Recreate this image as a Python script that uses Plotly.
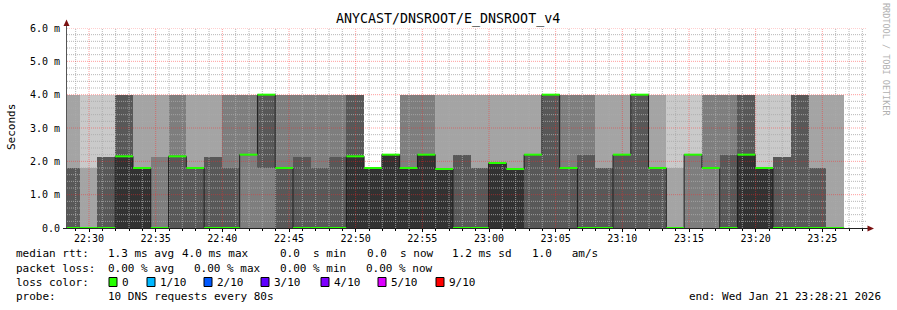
import plotly.graph_objects as go
from datetime import datetime, timedelta

# ---------------- data ----------------
title_text = "ANYCAST/DNSROOT/E_DNSROOT_v4"
view_start = datetime(2026, 1, 21, 22, 28, 21)
view_end = datetime(2026, 1, 21, 23, 28, 21)
first_column_start = datetime(2026, 1, 21, 22, 27, 58)
step_seconds = 80

# sorted ping RTTs (ms) per 80 s step, rank 1 = fastest ... rank 10 = slowest
ping_rank_1 = [0, 0, 0, 0, 0, 0, 0, 0, 0, 0, 0, 0, 0, 0, 0, 0, 0, 0, 0, 0, 0, 0,
               0, 0, 0, 0, 0, 0, 0, 0, 0, 0, 0, 0, 0, 0, 0, 0, 0, 0, 0, 0, 0, 0]
ping_rank_2 = [0, 0, 0, 0, 0, 0, 0, 0, 0, 0, 0, 0, 0, 0, 0, 0, 0, 0, 0, 0, 0, 0,
               0, 0, 0, 0, 0, 0, 0, 0, 0, 0, 0, 0, 0, 0, 0, 0, 0, 0, 0, 0, 0, 0]
ping_rank_3 = [0, 0, 0, 0, 0, 0, 0, 0, 0, 0, 0, 0, 0, 0, 0, 0, 0, 0, 0, 0, 0, 0,
               0, 0, 0, 0, 0, 0, 0, 0, 0, 0, 0, 0, 0, 0, 0, 0, 0, 0, 0, 0, 0, 0]
ping_rank_4 = [0, 0, 0, 0, 0, 0, 0, 0, 0, 0, 2.2, 1.8, 0, 0, 0, 0, 0, 0, 0, 0,
               0, 0, 0, 0, 0, 0, 0, 0, 0, 0, 0, 0, 0, 0, 0, 2.2, 1.8, 0, 0, 0,
               0, 0, 0, 0]
ping_rank_5 = [0, 0, 0, 0, 0, 0, 2.15, 1.8, 0, 0, 2.2, 4, 1.8, 0, 0, 0, 0, 0, 0, 0,
               0, 0, 0, 0, 0, 0, 2.2, 4, 1.8, 0, 0, 2.2, 4, 1.8, 0, 2.2, 1.8, 0, 0, 0,
               0, 0, 0, 0]
ping_rank_6 = [0, 0, 0, 2.15, 1.8, 0, 2.15, 1.8, 0, 0, 2.2, 4, 1.8, 0, 0, 0, 2.15, 1.8, 2.2, 1.8,
               2.2, 1.77, 0, 0, 1.95, 1.77, 2.2, 4, 1.8, 0, 0, 2.2, 4, 1.8, 0, 2.2, 1.8, 0, 2.2, 1.8,
               0, 0, 0, 0]
ping_rank_7 = [1.8, 0, 2.13, 4, 1.8, 0, 2.15, 1.8, 2.13, 1.8, 2.2, 4, 1.8, 2.13, 1.8, 2.13, 4, 1.8, 2.2, 1.8,
               2.2, 1.77, 2.2, 1.8, 1.95, 1.77, 2.2, 4, 1.8, 2.2, 1.8, 2.2, 4, 1.8, 0, 2.2, 1.8, 2.2, 4, 1.8,
               2.13, 4, 1.8, 0]
ping_rank_8 = [1.8, 0, 2.13, 4, 1.8, 2.13, 4, 1.8, 2.13, 4, 4, 4, 4, 4, 4, 4, 4, 1.8, 2.2, 4,
               4, 1.77, 2.2, 1.8, 1.95, 1.77, 2.2, 4, 4, 4, 1.8, 2.2, 4, 1.8, 0, 2.2, 4, 4, 4, 1.8,
               2.13, 4, 1.8, 0]
ping_rank_9 = [4, 1.8, 2.13, 4, 4, 4, 4, 4, 4, 4, 4, 4, 4, 4, 4, 4, 4, 1.8, 2.2, 4,
               4, 4, 4, 4, 4, 4, 4, 4, 4, 4, 4, 4, 4, 4, 1.8, 2.2, 4, 4, 4, 1.8,
               2.13, 4, 4, 4]
ping_rank_10 = [4, 4, 4, 4, 4, 4, 4, 4, 4, 4, 4, 4, 4, 4, 4, 4, 4, 1.8, 2.2, 4,
                4, 4, 4, 4, 4, 4, 4, 4, 4, 4, 4, 4, 4, 4, 4, 4, 4, 4, 4, 4,
                4, 4, 4, 4]
median_rtt = ping_rank_6

y_tick_values = [0, 1, 2, 3, 4, 5, 6]
y_tick_labels = ["0.0", "1.0 m", "2.0 m", "3.0 m", "4.0 m", "5.0 m", "6.0 m"]
x_tick_labels = ["22:30", "22:35", "22:40", "22:45", "22:50", "22:55",
                 "23:00", "23:05", "23:10", "23:15", "23:20", "23:25"]

loss_labels = ["0", "1/10", "2/10", "3/10", "4/10", "5/10", "9/10"]
loss_colors = ["#26ff00", "#00b8ff", "#0059ff", "#5e00ff", "#7e00ff", "#dd00ff", "#ff0000"]

legend_line1 = [("median rtt:", 16), ("1.3 ms avg", 108), ("4.0 ms max", 182),
                ("0.0  s min", 280), ("0.0  s now", 367), ("1.2 ms sd", 452), ("1.0   am/s", 532)]
legend_line2 = [("packet loss:", 16), ("0.00 % avg", 108), ("0.00 % max", 194),
                ("0.00 % min", 280), ("0.00 % now", 366)]
probe_text = "10 DNS requests every 80s"
end_text = "end: Wed Jan 21 23:28:21 2026"

# ---------------- layout geometry ----------------
W, H = 897, 310
PL, PR, PT, PB = 67, 867, 28, 228
FONT = "DejaVu Sans Mono"


def px(x):
    return (x - PL) / (PR - PL)


def py(y):
    return (PB - y) / (PB - PT)


n = len(median_rtt)
starts = [first_column_start + timedelta(seconds=step_seconds * i) for i in range(n + 1)]
centers = [s + timedelta(seconds=step_seconds / 2) for s in starts[:n]]
width_ms = step_seconds * 1000

ranks = [ping_rank_1, ping_rank_2, ping_rank_3, ping_rank_4, ping_rank_5,
         ping_rank_6, ping_rank_7, ping_rank_8, ping_rank_9, ping_rank_10]
smoke_colors = ["#cacaca", "#a4a4a4", "#7e7e7e", "#585858", "#323232"]

fig = go.Figure()
# smoke bands (outer to inner)
for b in range(5):
    lo = ranks[b]
    hi = ranks[9 - b]
    fig.add_trace(go.Bar(
        x=centers, base=lo, y=[h - l for h, l in zip(hi, lo)], width=width_ms,
        marker=dict(color=smoke_colors[b], line=dict(width=0)),
        hoverinfo="skip", showlegend=False))

# grid lines (dotted, drawn over smoke like rrdtool)
minor_col = "rgba(170,170,170,0.85)"
major_col = "rgba(255,40,40,0.45)"
gx_minor, gy_minor, gx_major, gy_major = [], [], [], []
for i in range(1, 31):
    v = round(i * 0.2, 2)
    tx, ty = (gx_major, gy_major) if i % 5 == 0 else (gx_minor, gy_minor)
    tx += [view_start, view_end, None]
    ty += [v, v, None]
t = view_start.replace(second=0) + timedelta(minutes=1)
while t < view_end:
    tx, ty = (gx_major, gy_major) if t.minute % 5 == 0 else (gx_minor, gy_minor)
    tx += [t, t, None]
    ty += [0, 6, None]
    t += timedelta(minutes=1)
fig.add_trace(go.Scatter(x=gx_minor, y=gy_minor, mode="lines", hoverinfo="skip", showlegend=False,
                         line=dict(color=minor_col, width=1, dash="1px,1px")))
fig.add_trace(go.Scatter(x=gx_major, y=gy_major, mode="lines", hoverinfo="skip", showlegend=False,
                         line=dict(color=major_col, width=1, dash="1px,1px")))

# median line (dark) stepped
fig.add_trace(go.Scatter(
    x=starts, y=median_rtt + [median_rtt[-1]], mode="lines",
    line=dict(color="#202020", width=1, shape="hv"), hoverinfo="skip", showlegend=False))

# loss-coloured median segments
mx, my = [], []
for i in range(n):
    mx += [starts[i], starts[i + 1], None]
    my += [median_rtt[i], median_rtt[i], None]
fig.add_trace(go.Scatter(x=mx, y=my, mode="lines", hoverinfo="skip", showlegend=False,
                         line=dict(color=loss_colors[0], width=2)))

shapes = []
# axes with arrows
axis_col = "#222222"
arrow_col = "#7a1010"
shapes.append(dict(type="line", xref="paper", yref="paper", x0=px(66.5), x1=px(66.5),
                   y0=py(228.5), y1=py(24), line=dict(color="#555555", width=1), layer="above"))
shapes.append(dict(type="line", xref="paper", yref="paper", x0=px(63), x1=px(869),
                   y0=py(228.5), y1=py(228.5), line=dict(color=axis_col, width=1), layer="above"))
shapes.append(dict(type="path", xref="paper", yref="paper",
                   path=f"M {px(66.5)} {py(19.5)} L {px(63.5)} {py(26)} L {px(69.5)} {py(26)} Z",
                   fillcolor=arrow_col, line=dict(width=0), layer="above"))
shapes.append(dict(type="path", xref="paper", yref="paper",
                   path=f"M {px(874)} {py(228.5)} L {px(867.5)} {py(225.5)} L {px(867.5)} {py(231.5)} Z",
                   fillcolor=arrow_col, line=dict(width=0), layer="above"))

annotations = []


def text_ann(txt, x, y, anchor="left", size=11, color="#000", angle=0):
    annotations.append(dict(text=txt.replace(" ", "&nbsp;"), xref="paper", yref="paper",
                            x=px(x), y=py(y), xanchor=anchor, yanchor="middle",
                            showarrow=False, borderpad=0, textangle=angle,
                            font=dict(family=FONT, size=size, color=color)))


text_ann(title_text, 448, 19, anchor="center", size=13.3)
text_ann("Seconds", 11, 127, anchor="center", size=11, angle=-90)
text_ann("RRDTOOL / TOBI OETIKER", 886, 59, anchor="center", size=8.5, color="#b0b0b0", angle=90)

LF = 11
for txt, x in legend_line1:
    text_ann(txt, x - 1, 254, size=LF)
for txt, x in legend_line2:
    text_ann(txt, x - 1, 268, size=LF)
text_ann("loss color:", 15, 282, size=LF)
box_x = [109, 147, 204, 261, 321, 378, 436]
for lab, col, bx in zip(loss_labels, loss_colors, box_x):
    shapes.append(dict(type="rect", xref="paper", yref="paper", x0=px(bx), x1=px(bx + 8),
                       y0=py(286.5), y1=py(277.5), fillcolor=col, line=dict(color="#000", width=1)))
    text_ann(lab, bx + 12, 282, size=LF)
text_ann("probe:", 15, 296, size=LF)
text_ann(probe_text, 107, 296, size=LF)
text_ann(end_text, 882, 296, anchor="right", size=LF)

x_tick_vals = [datetime(2026, 1, 21, int(s[:2]), int(s[3:]), 0) for s in x_tick_labels]

fig.update_layout(
    width=W, height=H,
    margin=dict(l=PL, r=W - PR, t=PT, b=H - PB, pad=0),
    paper_bgcolor="white", plot_bgcolor="white",
    barmode="overlay", bargap=0,
    showlegend=False,
    shapes=shapes, annotations=annotations,
    xaxis=dict(type="date", range=[view_start, view_end], showgrid=False, zeroline=False,
               showline=False, tickvals=x_tick_vals, ticktext=x_tick_labels,
               ticks="outside", ticklen=3, tickcolor="#000", tickwidth=1,
               ticklabelstandoff=-2,
               tickfont=dict(family=FONT, size=10, color="#000"),
               minor=dict(ticks="outside", ticklen=2, dtick=60000, tickcolor="#000", showgrid=False)),
    yaxis=dict(range=[0, 6], showgrid=False, zeroline=False, showline=False,
               tickvals=y_tick_values, ticktext=y_tick_labels, ticks="",
               ticklabelstandoff=6,
               tickfont=dict(family=FONT, size=10, color="#000")),
)

fig.write_html("out.html")
